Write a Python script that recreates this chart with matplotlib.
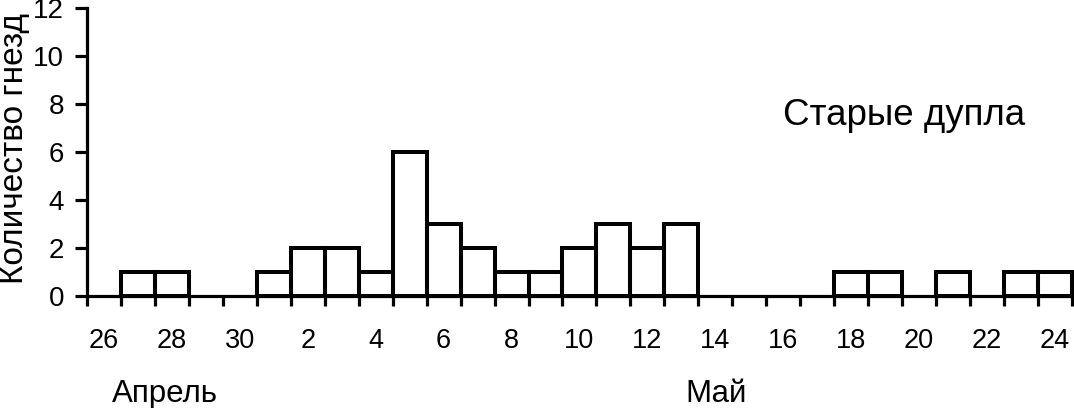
import matplotlib
matplotlib.use("Agg")
import matplotlib.pyplot as plt
import numpy as np

plt.rcParams['font.family'] = ['Liberation Sans', 'DejaVu Sans']

# Days from 26 April to 24 May
day_labels = ["26", "27", "28", "29", "30",
              "1", "2", "3", "4", "5", "6", "7", "8", "9", "10",
              "11", "12", "13", "14", "15", "16", "17", "18", "19", "20",
              "21", "22", "23", "24"]
nest_counts = [0, 1, 1, 0, 0,
               1, 2, 2, 1, 6, 3, 2, 1, 1, 2,
               3, 2, 3, 0, 0, 0, 0, 1, 1, 0,
               1, 0, 1, 1]
y_ticks = [0, 2, 4, 6, 8, 10, 12]
title_text = "Старые дупла"
y_label = "Количество гнезд"
month_labels = ["Апрель", "Май"]

W, H = 1074, 408
fig = plt.figure(figsize=(W / 100, H / 100), dpi=100)
ax = fig.add_axes([87 / W, 1 - 296 / H, (1074 - 87) / W, (296 - 8) / H])

x = np.arange(len(day_labels))
counts = np.array(nest_counts)
mask = counts > 0
ax.bar(x[mask], counts[mask], width=1.0, fill=False, edgecolor='black',
       linewidth=2.9, align='center', clip_on=False)

ax.set_xlim(-0.5, len(day_labels) - 0.5 + 0.06)
ax.set_ylim(0, 12)

for s in ['top', 'right']:
    ax.spines[s].set_visible(False)
for s in ['left', 'bottom']:
    ax.spines[s].set_linewidth(2.3)

# tick marks at bar edges (every day), labels every second day
ax.set_xticks(np.arange(len(day_labels) + 1) - 0.5)
ax.set_xticklabels([])
ax.tick_params(axis='x', which='major', direction='out', length=7.5, width=2.3)
ax.set_xticks(x[::2], minor=True)
ax.set_xticklabels(day_labels[::2], minor=True, fontsize=19.5)
ax.tick_params(axis='x', which='minor', length=0, pad=23)

ax.set_yticks(y_ticks)
ax.set_yticklabels([str(v) for v in y_ticks], fontsize=20)
ax.tick_params(axis='y', direction='out', length=8.5, width=2.3, pad=8)

fig.text(15 / W, 1 - 148 / H, y_label, rotation=90,
         ha='center', va='center', fontsize=24)
fig.text(783 / W, 1 - 125 / H, title_text, ha='left', va='baseline', fontsize=26.5)
fig.text(112 / W, 1 - 402 / H, month_labels[0], ha='left', va='baseline', fontsize=22.5)
fig.text(685 / W, 1 - 402 / H, month_labels[1], ha='left', va='baseline', fontsize=22.5)

fig.savefig("out.png", dpi=100)
